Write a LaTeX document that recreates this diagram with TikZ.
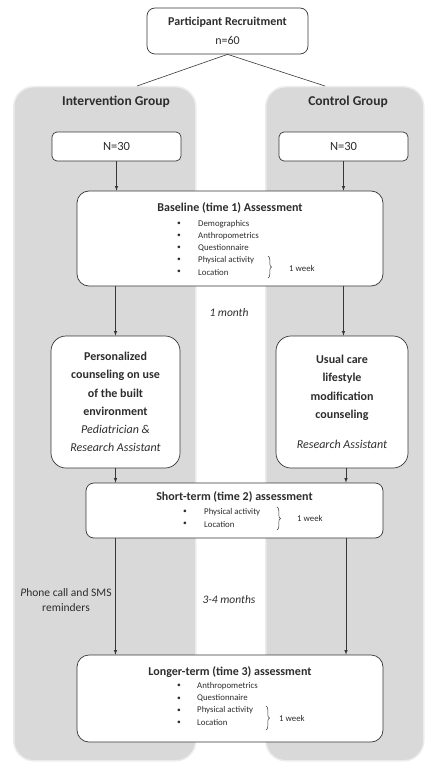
\documentclass[tikz,border=0pt]{standalone}
\usepackage{fontspec}
\setmainfont{Carlito}
\usetikzlibrary{calc}
\usetikzlibrary{arrows}
\usetikzlibrary{positioning}
\usetikzlibrary{decorations.pathreplacing}
\definecolor{fondgris}{RGB}{217,217,217}
\definecolor{bordgris}{RGB}{236,236,236}
\definecolor{trait}{RGB}{55,55,55}
\definecolor{texte}{RGB}{45,45,45}
\tikzstyle{groupe}          =[fill=fondgris, draw=bordgris, line width=1.5pt, rounded corners=20pt, anchor=north west, inner sep=0pt]
\tikzstyle{boite}           =[draw=trait, fill=white, line width=0.7pt, align=center, text=texte, inner sep=2pt]
\tikzstyle{titre}           =[font=\bfseries\fontsize{12}{14}\selectfont, text=texte]
\tikzstyle{puce}            =[font=\fontsize{8.8}{10}\selectfont, anchor=west, inner sep=0pt, text=texte]
\tikzstyle{point}           =[font=\fontsize{7.5}{9}\selectfont, inner sep=0pt, text=texte]
\tikzstyle{note}            =[font=\fontsize{11.5}{15}\selectfont, text=texte, align=center]
\tikzstyle{fleche}          =[-latex, draw=trait, line width=0.6pt]
\tikzstyle{accolade}        =[decorate, decoration={brace, amplitude=3.5pt}, draw=trait, line width=0.5pt]

\begin{document}
\begin{tikzpicture}[x=1pt,y=-1pt]

\useasboundingbox (0,0) rectangle (425,762);

%%%%%%%%%%%%%%%%%%%%%%%%
%Les deux colonnes grises
%%%%%%%%%%%%%%%%%%%%%%%%

\node[groupe, minimum width=182pt, minimum height=674pt] (panI) at (13,86) {};
\node[groupe, minimum width=158pt, minimum height=674pt] (panC) at (265,86) {};
\node[titre, font=\bfseries\fontsize{13.5}{15}\selectfont] (titI) at (116,102) {Intervention Group};
\node[titre, font=\bfseries\fontsize{13.5}{15}\selectfont] (titC) at (348,102) {Control Group};

%recrutement et séparation
\node[boite, rounded corners=8pt, minimum width=161pt, minimum height=46pt, font=\fontsize{12}{19}\selectfont] (recrue) at (227.5,31) {\textbf{Participant Recruitment}\\n=60};
\coordinate (entreeI) at (137,86);
\coordinate (entreeC) at (325,86);
\draw[trait, line width=0.6pt] (recrue.south) -- (entreeI);
\draw[trait, line width=0.6pt] (recrue.south) -- (entreeC);

%effectifs
\node[boite, rounded corners=5pt, minimum width=129pt, minimum height=29pt, font=\fontsize{12.5}{14}\selectfont] (nI) at (116.5,146.5) {N=30};
\node[boite, rounded corners=5pt, minimum width=129pt, minimum height=29pt, font=\fontsize{12.5}{14}\selectfont] (nC) at (343.5,146.5) {N=30};

%%%%%%%%%%%%%%%%%%%%%%%%
%Temps 1
%%%%%%%%%%%%%%%%%%%%%%%%

\node[boite, rounded corners=12pt, minimum width=306pt, minimum height=95pt] (base) at (230,238.5) {};
\node[titre] (baseT) at (230,208) {Baseline (time 1) Assessment};
\foreach \mot [count=\i] in {Demographics,Anthropometrics,Questionnaire,Physical activity,Location}{
    \node[puce] (b1-\i) at (198,{224+12*(\i-1)}) {\mot};
    \node[point] (p1-\i) at (179,{224+12*(\i-1)}) {\textbullet};
}
\coordinate (acc1h) at (268,256);
\coordinate (acc1b) at (268,278);
\draw[accolade] (acc1h) -- (acc1b);
\node[puce] (sem1) at (289,268) {1 week};

\draw[fleche] (nI.south) -- (nI.south |- base.north);
\draw[fleche] (nC.south) -- (nC.south |- base.north);

\node[note] (mois1) at (229,313) {\itshape 1 month};

%%%%%%%%%%%%%%%%%%%%%%%%
%Conseils
%%%%%%%%%%%%%%%%%%%%%%%%

\node[boite, rounded corners=15pt, minimum width=129pt, minimum height=132pt, font=\bfseries\fontsize{12}{18.2}\selectfont] (conI) at (115.5,402) {Personalized\\counseling on use\\of the built\\environment\\{\normalfont\itshape Pediatrician \&}\\{\normalfont\itshape Research Assistant}};
\node[boite, rounded corners=15pt, minimum width=132pt, minimum height=132pt, font=\bfseries\fontsize{12}{18.2}\selectfont] (conC) at (342,402) {Usual care\\lifestyle\\modification\\counseling\\[12pt]{\normalfont\itshape Research Assistant}};

\draw[fleche] (conI.north |- base.south) -- (conI.north);
\draw[fleche] (nC.south |- base.south) -- (nC.south |- conC.north);

%%%%%%%%%%%%%%%%%%%%%%%%
%Temps 2
%%%%%%%%%%%%%%%%%%%%%%%%

\node[boite, rounded corners=8pt, minimum width=297pt, minimum height=55pt] (court) at (234.5,510.5) {};
\node[titre] (courtT) at (234.5,497) {Short-term (time 2) assessment};
\foreach \mot [count=\i] in {Physical activity,Location}{
    \node[puce] (b2-\i) at (204,{512+12*(\i-1)}) {\mot};
    \node[point] (p2-\i) at (185,{512+12*(\i-1)}) {\textbullet};
}
\coordinate (acc2h) at (277,507);
\coordinate (acc2b) at (277,530);
\draw[accolade] (acc2h) -- (acc2b);
\node[puce] (sem2) at (297,518) {1 week};

\draw[fleche] (conI.south) -- (conI.south |- court.north);
\draw[fleche] ([xshift=4pt]conC.south) -- ([xshift=4pt]conC.south |- court.north);

%%%%%%%%%%%%%%%%%%%%%%%%
%Temps 3
%%%%%%%%%%%%%%%%%%%%%%%%

\node[boite, rounded corners=12pt, minimum width=306pt, minimum height=87pt] (long) at (230,698.5) {};
\node[titre] (longT) at (230,672) {Longer-term (time 3) assessment};
\foreach \mot [count=\i] in {Anthropometrics,Questionnaire,Physical activity,Location}{
    \node[puce] (b3-\i) at (197,{686+12.3*(\i-1)}) {\mot};
    \node[point] (p3-\i) at (179,{686+12.3*(\i-1)}) {\textbullet};
}
\coordinate (acc3h) at (266,706);
\coordinate (acc3b) at (266,730);
\draw[accolade] (acc3h) -- (acc3b);
\node[puce] (sem3) at (279,718) {1 week};

\draw[fleche] (conI.south |- court.south) -- (conI.south |- long.north);
\draw[fleche] ([xshift=4pt]conC.south |- court.south) -- ([xshift=4pt]conC.south |- long.north);

\node[note] (rappel) at (66,600) {\textit{P}hone call and SMS\\reminders};
\node[note] (mois34) at (229,600) {\itshape 3-4 months};

\end{tikzpicture}
\end{document}
